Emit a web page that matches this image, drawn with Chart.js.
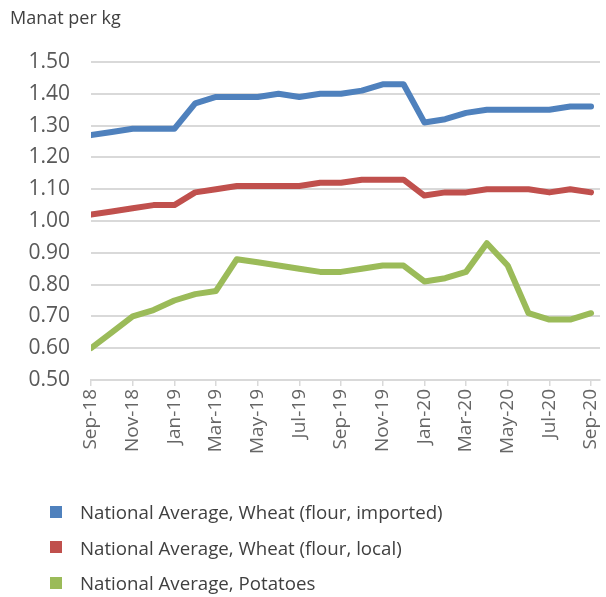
<!DOCTYPE html>
<html>
<head>
<meta charset="utf-8">
<script src="https://cdn.jsdelivr.net/npm/chart.js@4"></script>
<style>
  html, body { margin: 0; padding: 0; background: #fff; }
  #wrap { position: relative; width: 606px; height: 597px; }
  #pricechart { position: absolute; left: 0; top: 0; }
  #legend { position: absolute; left: 50px; top: 494px; font-family: "Open Sans", sans-serif; font-size: 18.7px; color: #404040; }
  .item { height: 35.5px; display: flex; align-items: center; white-space: nowrap; }
  .box { width: 12px; height: 12px; margin-right: 18px; }
</style>
</head>
<body>
<div id="wrap">
  <canvas id="pricechart" width="606" height="597"></canvas>
  <div id="legend"></div>
</div>
<script>
const months = ['Sep-18', 'Oct-18', 'Nov-18', 'Dec-18', 'Jan-19', 'Feb-19', 'Mar-19', 'Apr-19', 'May-19',
    'Jun-19', 'Jul-19', 'Aug-19', 'Sep-19', 'Oct-19', 'Nov-19', 'Dec-19', 'Jan-20', 'Feb-20', 'Mar-20',
    'Apr-20', 'May-20', 'Jun-20', 'Jul-20', 'Aug-20', 'Sep-20'];

const wheatImported = [1.27, 1.28, 1.29, 1.29, 1.29, 1.37, 1.39, 1.39, 1.39, 1.40, 1.39, 1.40, 1.40,
    1.41, 1.43, 1.43, 1.31, 1.32, 1.34, 1.35, 1.35, 1.35, 1.35, 1.36, 1.36];
const wheatLocal = [1.02, 1.03, 1.04, 1.05, 1.05, 1.09, 1.10, 1.11, 1.11, 1.11, 1.11, 1.12, 1.12,
    1.13, 1.13, 1.13, 1.08, 1.09, 1.09, 1.10, 1.10, 1.10, 1.09, 1.10, 1.09];
const potatoes = [0.60, 0.65, 0.70, 0.72, 0.75, 0.77, 0.78, 0.88, 0.87, 0.86, 0.85, 0.84, 0.84,
    0.85, 0.86, 0.86, 0.81, 0.82, 0.84, 0.93, 0.86, 0.71, 0.69, 0.69, 0.71];

const yTicks = { min: 0.5, max: 1.5, step: 0.1 };

const toPoints = vals => vals.map((v, i) => ({ x: i, y: v }));

const gridColor = '#d9d9d9';
const textGray = '#595959';

const ctx = document.getElementById('pricechart').getContext('2d');

const myChart = new Chart(ctx, {
    type: 'line',
    data: {
        datasets: [
            {
                label: 'National Average, Wheat (flour, imported)',
                data: toPoints(wheatImported),
                borderColor: '#4f81bd',
                backgroundColor: '#4f81bd',
            },
            {
                label: 'National Average, Wheat (flour, local)',
                data: toPoints(wheatLocal),
                borderColor: '#c0504d',
                backgroundColor: '#c0504d',
            },
            {
                label: 'National Average, Potatoes',
                data: toPoints(potatoes),
                borderColor: '#9bbb59',
                backgroundColor: '#9bbb59',
            },
        ],
    },
    options: {
        responsive: false,
        animation: false,
        layout: {
            padding: { left: 10, right: 6, top: 0, bottom: 0 }
        },
        elements: {
            line: {
                borderWidth: 6,
                tension: 0,
                fill: false,
                borderCapStyle: 'round',
                borderJoinStyle: 'round',
            },
            point: { radius: 0, hoverRadius: 0 }
        },
        plugins: {
            legend: { display: false },
            tooltip: { enabled: false },
            title: {
                display: true,
                text: 'Manat per kg',
                align: 'start',
                color: '#404040',
                font: { family: 'Open Sans', size: 18, weight: 'normal' },
                padding: { top: 8, bottom: 32.4 }
            }
        },
        scales: {
            x: {
                type: 'linear',
                min: 0,
                max: 24.43,
                afterFit: scale => {
                    scale.height = 597 - 380;
                    // don't let the rotated end labels squeeze the plot
                    scale.paddingLeft = 0;
                    scale.paddingRight = 0;
                },
                // one tick every second month, Sep-18 .. Sep-20
                afterBuildTicks: scale => {
                    scale.ticks = months.map((m, i) => i).filter(i => i % 2 === 0).map(i => ({ value: i }));
                },
                ticks: {
                    autoSkip: false,
                    maxRotation: 90,
                    minRotation: 90,
                    padding: 3,
                    color: '#666666',
                    font: { family: 'Open Sans', size: 19 },
                    callback: value => months[value],
                },
                grid: {
                    drawOnChartArea: false,
                    drawTicks: true,
                    tickLength: 6,
                    color: gridColor,
                    lineWidth: 1.5,
                },
                border: { display: true, color: gridColor, width: 2 },
            },
            y: {
                min: yTicks.min,
                max: yTicks.max,
                afterFit: scale => { scale.width = 81; },
                ticks: {
                    stepSize: yTicks.step,
                    padding: 21,
                    color: textGray,
                    font: { family: 'Open Sans', size: 21 },
                    callback: value => value.toFixed(2),
                },
                grid: {
                    drawTicks: false,
                    color: gridColor,
                    lineWidth: 2,
                },
                border: { display: false },
            },
        },
    },
});

// html legend, one row per series
const legendEl = document.getElementById('legend');
myChart.data.datasets.forEach(ds => {
    const row = document.createElement('div');
    row.className = 'item';
    const box = document.createElement('span');
    box.className = 'box';
    box.style.background = ds.borderColor;
    const txt = document.createElement('span');
    txt.textContent = ds.label;
    row.appendChild(box);
    row.appendChild(txt);
    legendEl.appendChild(row);
});
</script>
</body>
</html>
